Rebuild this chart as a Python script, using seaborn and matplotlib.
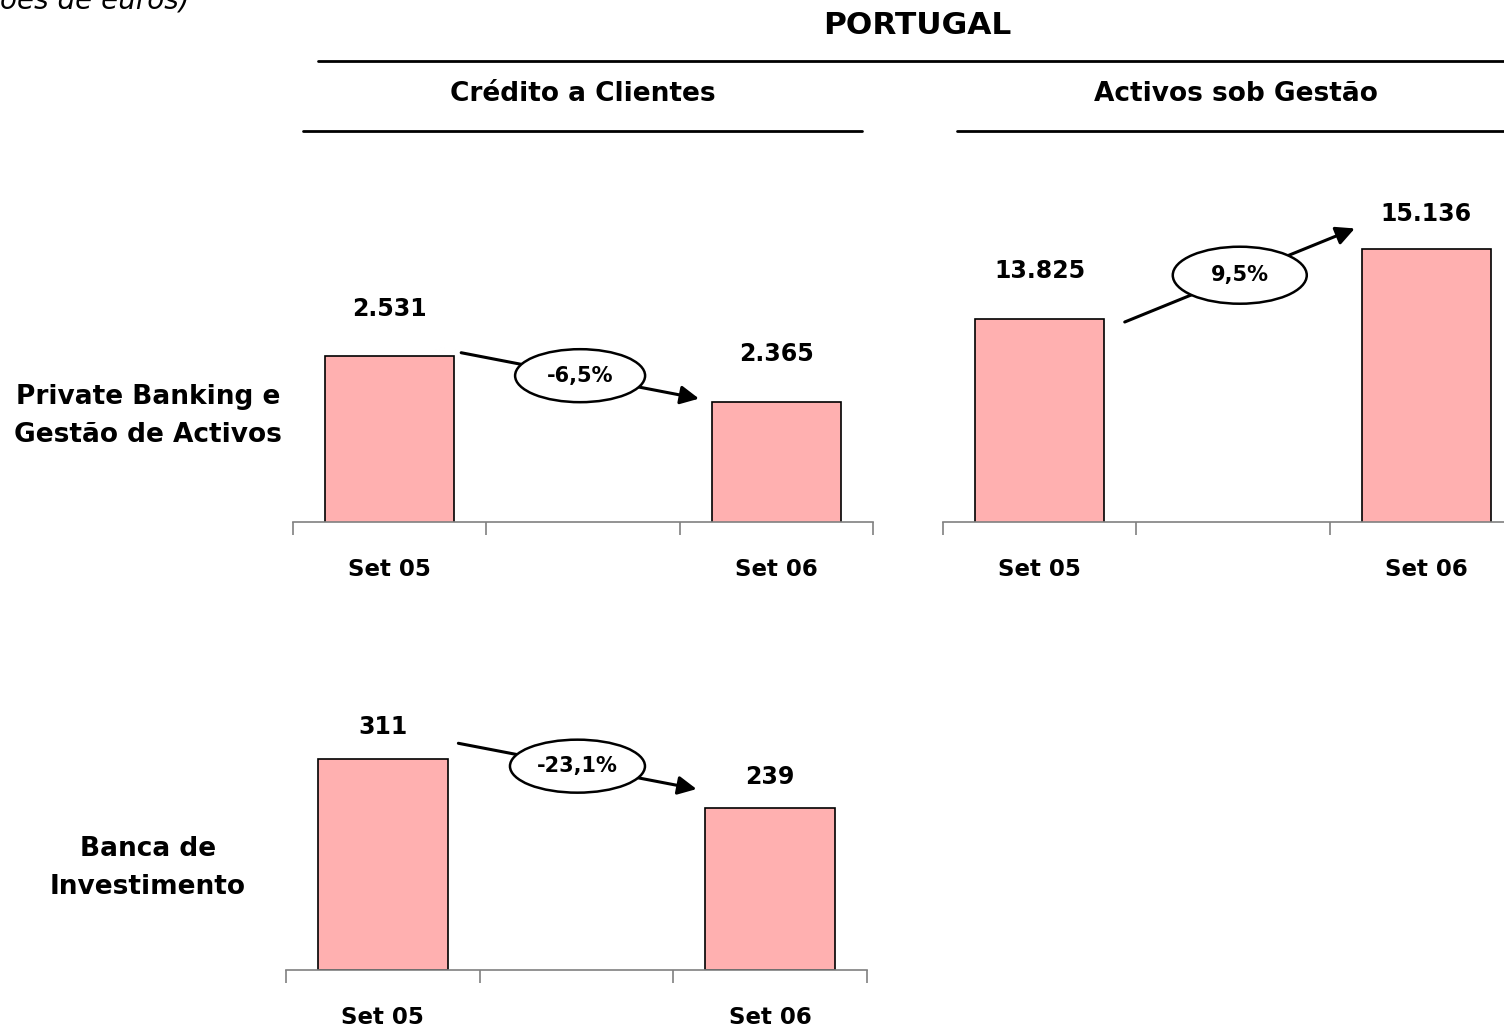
import numpy as np
import pandas as pd
import seaborn as sns
import matplotlib.pyplot as plt
from matplotlib.lines import Line2D
from matplotlib.patches import Ellipse

# ---- data ----
periods = ["Set 05", "Set 06"]
credito_pb = [2531, 2365]
activos_pb = [13825, 15136]
credito_bi = [311, 239]
growth_labels = ["-6,5%", "9,5%", "-23,1%"]

BAR_COLOR = "#FFB0B0"
AXIS_GRAY = "#808080"
W, H = 1504, 1034

sns.set_style("white")
plt.rcParams["font.family"] = ["DejaVu Sans"]
plt.rcParams["text.color"] = "black"
plt.rcParams["xtick.color"] = "black"

fig = plt.figure(figsize=(W / 100, H / 100), dpi=100)


def px_box(left, top, right, bottom):
    """figure-fraction rect from pixel coords (origin top-left)"""
    return [left / W, 1 - bottom / H, (right - left) / W, (bottom - top) / H]


def fmt(v):
    return f"{v:,}".replace(",", ".")


def bar_panel(rect, values, ylim, label_offsets):
    ax = fig.add_axes(rect)
    df = pd.DataFrame({"periodo": periods, "valor": values})
    order = [periods[0], " ", periods[1]]
    sns.barplot(data=df, x="periodo", y="valor", order=order, color=BAR_COLOR,
                saturation=1, width=0.67, edgecolor="black", linewidth=1.2, ax=ax)
    ax.set_xlim(-0.5, 2.5)
    ax.set_ylim(*ylim)
    ax.set_xlabel("")
    ax.set_ylabel("")
    ax.set_yticks([])
    sns.despine(ax=ax, left=True)
    ax.spines["bottom"].set_color(AXIS_GRAY)
    ax.spines["bottom"].set_linewidth(1.2)
    # category boundaries as ticks, labels on the bar centres
    ax.set_xticks([-0.5, 0.5, 1.5, 2.5])
    ax.set_xticklabels([])
    ax.tick_params(axis="x", which="major", bottom=True, direction="out", length=9,
                   width=1.2, color=AXIS_GRAY)
    ax.set_xticks([0, 2], minor=True)
    ax.set_xticklabels(periods, minor=True, fontsize=16.5, fontweight="bold")
    ax.tick_params(axis="x", which="minor", bottom=True, length=0, pad=26,
                   labelcolor="black")
    for i, v, off in zip([0, 2], values, label_offsets):
        ax.annotate(fmt(v), xy=(i, v), xytext=(0, off), textcoords="offset pixels",
                    ha="center", va="center", fontsize=17, fontweight="bold")
    return ax


def growth_arrow(ax, values, text, x0, x1, dy0, dy1, ew, eh):
    t = ax.transData
    p0 = t.transform((x0, values[0])) + np.array([0, dy0])
    p1 = t.transform((x1, values[1])) + np.array([0, dy1])
    inv = t.inverted()
    d0, d1 = inv.transform(p0), inv.transform(p1)
    ax.annotate("", xy=d1, xytext=d0,
                arrowprops=dict(arrowstyle="-|>", color="black", lw=2.2,
                                mutation_scale=28, shrinkA=0, shrinkB=0),
                zorder=4)
    mid = inv.transform((p0 + p1) / 2)
    sx = (t.transform((1, 0)) - t.transform((0, 0)))[0]
    sy = (t.transform((0, 1)) - t.transform((0, 0)))[1]
    ax.add_patch(Ellipse(mid, ew / sx, eh / sy, facecolor="white", edgecolor="black",
                         lw=1.8, zorder=5, clip_on=False))
    ax.text(mid[0], mid[1], text, ha="center", va="center", fontsize=15,
            fontweight="bold", zorder=6)


ax1 = bar_panel(px_box(293, 190, 873, 522), credito_pb, (1930, 3130), [47, 48])
ax2 = bar_panel(px_box(943, 190, 1523, 522), activos_pb, (10000, 16256), [48, 35])
ax3 = bar_panel(px_box(286, 638, 867, 970), credito_bi, (0, 490), [32, 31])

growth_arrow(ax1, credito_pb, growth_labels[0], 0.37, 1.6, 3, 3, 130, 53)
growth_arrow(ax2, activos_pb, growth_labels[1], 0.44, 1.63, -3, 21, 134, 57)
growth_arrow(ax3, credito_bi, growth_labels[2], 0.39, 1.62, 16, 19, 135, 53)

# headers and rules
fig.text(917 / W, 1 - 25 / H, "PORTUGAL", ha="center", va="center",
         fontsize=22.5, fontweight="bold")
fig.add_artist(Line2D([318 / W, 1.0], [1 - 61 / H] * 2, color="black", lw=2))
fig.text(583 / W, 1 - 94 / H, "Crédito a Clientes", ha="center", va="center",
         fontsize=19, fontweight="bold")
fig.text(1236 / W, 1 - 94 / H, "Activos sob Gestão", ha="center", va="center",
         fontsize=19, fontweight="bold")
fig.add_artist(Line2D([303 / W, 862 / W], [1 - 131 / H] * 2, color="black", lw=2))
fig.add_artist(Line2D([957 / W, 1.0], [1 - 131 / H] * 2, color="black", lw=2))

# row labels
fig.text(148 / W, 1 - 416 / H, "Private Banking e\nGestão de Activos", ha="center",
         va="center", fontsize=19, fontweight="bold", linespacing=1.65)
fig.text(148 / W, 1 - 868 / H, "Banca de\nInvestimento", ha="center",
         va="center", fontsize=19, fontweight="bold", linespacing=1.65)

# unit note, partly cut off at the top edge
fig.text(190 / W, 1 - 8 / H, "(Milhões de euros)", ha="right", va="baseline",
         fontsize=20, style="italic")

fig.savefig("out.png", dpi=100)
